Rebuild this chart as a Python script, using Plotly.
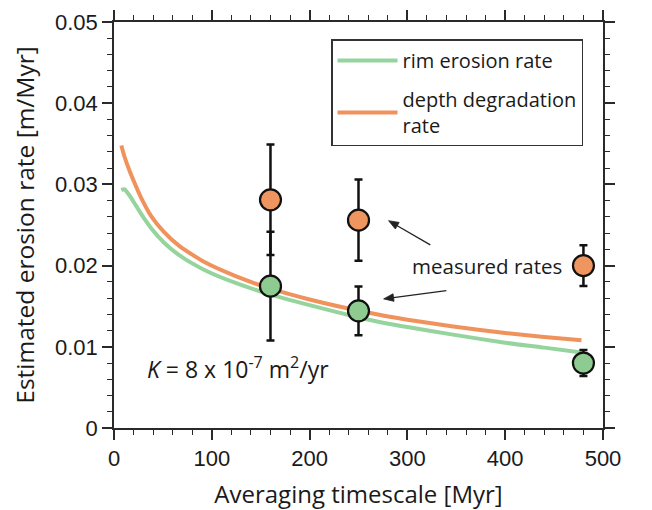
import math
import plotly.graph_objects as go

# ---- data ----
curve_x = [7.5, 10.5, 15.5, 22, 28.4, 38, 51, 67, 93, 125, 157, 200, 258, 300, 345, 400, 440, 478]
rim_curve = [0.0293, 0.0294, 0.0287, 0.02747, 0.02624, 0.0246, 0.02285, 0.02125, 0.01943, 0.01783,
             0.01655, 0.01513, 0.0134, 0.01243, 0.01153, 0.0105, 0.0099, 0.0093]
depth_curve = [0.0348, 0.0335, 0.0318, 0.0299, 0.0282, 0.0261, 0.02415, 0.02239, 0.0204, 0.01867,
               0.01729, 0.01583, 0.01426, 0.01334, 0.01253, 0.0117, 0.0112, 0.0108]

meas_x = [160, 250, 480]
rim_meas = [0.01747, 0.01443, 0.0080]
rim_err = [0.0067, 0.0030, 0.0016]
depth_meas = [0.0281, 0.0256, 0.0200]
depth_err = [0.0068, 0.0050, 0.0025]

x_ticks = [0, 100, 200, 300, 400, 500]
y_ticks = [0, 0.01, 0.02, 0.03, 0.04, 0.05]

GREEN_LINE = "#96D49D"
ORANGE_LINE = "#F0925C"
GREEN_FILL = "#8DCB90"
ORANGE_FILL = "#EF955F"
AX = "#2a2a2a"
TXT_FONT = "Open Sans"

# plot-area geometry (px) used to build arrow heads with correct proportions
X_RANGE = (0, 500)
Y_RANGE = (0, 0.05)
PLOT_W, PLOT_H = 489, 406
SX = PLOT_W / (X_RANGE[1] - X_RANGE[0])
SY = PLOT_H / (Y_RANGE[1] - Y_RANGE[0])

fig = go.Figure()
fig.add_trace(go.Scatter(x=curve_x, y=rim_curve, mode="lines", name="rim erosion rate",
                         legendgroup="a",
                         line=dict(color=GREEN_LINE, width=4, shape="spline", smoothing=0.6)))
fig.add_trace(go.Scatter(x=curve_x, y=depth_curve, mode="lines", name="depth degradation<br>rate",
                         legendgroup="b",
                         line=dict(color=ORANGE_LINE, width=4, shape="spline", smoothing=0.6)))

for yv, ev, fill in [(depth_meas, depth_err, ORANGE_FILL), (rim_meas, rim_err, GREEN_FILL)]:
    fig.add_trace(go.Scatter(x=meas_x, y=yv, mode="markers", showlegend=False,
                             error_y=dict(type="data", array=ev, visible=True, color="#111",
                                          thickness=2.5, width=4),
                             marker=dict(size=21, color=fill, line=dict(color="#111", width=2.2))))

axis_common = dict(showline=True, linecolor=AX, linewidth=1.5, mirror="ticks",
                   ticks="outside", ticklen=10, tickwidth=1.5, tickcolor=AX,
                   showgrid=False, zeroline=False, automargin=False,
                   tickfont=dict(family="Liberation Sans", size=22, color="#1a1a1a"))

fig.update_xaxes(**axis_common, range=list(X_RANGE), tickvals=x_ticks,
                 minor=dict(dtick=20, ticks="outside", ticklen=5, tickwidth=1.3, tickcolor=AX),
                 title=dict(text="Averaging timescale [Myr]", standoff=17,
                            font=dict(family=TXT_FONT, size=24, color="#1a1a1a")))
fig.update_yaxes(**axis_common, range=list(Y_RANGE), tickvals=y_ticks,
                 minor=dict(dtick=0.002, ticks="outside", ticklen=5, tickwidth=1.3, tickcolor=AX),
                 title=dict(text="Estimated erosion rate [m/Myr]", standoff=14,
                            font=dict(family=TXT_FONT, size=24.5, color="#1a1a1a")))

fig.add_annotation(x=32, y=0.0074, xref="x", yref="y", xanchor="left", yanchor="middle",
                   showarrow=False, text="<i>K</i> = 8 x 10<sup>-7</sup> m<sup>2</sup>/yr",
                   font=dict(family=TXT_FONT, size=23, color="#1a1a1a"))
fig.add_annotation(x=381, y=0.0199, xref="x", yref="y", showarrow=False, text="measured rates",
                   font=dict(family=TXT_FONT, size=20.5, color="#1a1a1a"))


def add_arrow(tail, tip, head_len=10, head_half=3.8, color="#222"):
    """Arrow from tail to tip (data coords); head sized in pixels."""
    dxp = (tip[0] - tail[0]) * SX
    dyp = (tip[1] - tail[1]) * SY
    L = math.hypot(dxp, dyp)
    ux, uy = dxp / L, dyp / L
    nx, ny = -uy, ux
    bx = -ux * head_len
    by = -uy * head_len
    p1 = (tip[0] + (bx + nx * head_half) / SX, tip[1] + (by + ny * head_half) / SY)
    p2 = (tip[0] + (bx - nx * head_half) / SX, tip[1] + (by - ny * head_half) / SY)
    base = (tip[0] + bx * 0.8 / SX, tip[1] + by * 0.8 / SY)
    fig.add_shape(type="line", xref="x", yref="y", x0=tail[0], y0=tail[1], x1=base[0], y1=base[1],
                  line=dict(color=color, width=1.3))
    fig.add_shape(type="path", xref="x", yref="y",
                  path=f"M {tip[0]},{tip[1]} L {p1[0]},{p1[1]} L {p2[0]},{p2[1]} Z",
                  fillcolor=color, line=dict(color=color, width=0.8))


add_arrow(tail=(323.4, 0.02255), tip=(280.8, 0.02553))
add_arrow(tail=(339.8, 0.01693), tip=(275.7, 0.0159))

# The page body has an 8px default margin, so the figure is sized/offset to keep
# the plot area where the reference has it inside the 652x510 window.
fig.update_layout(
    width=644, height=502,
    margin=dict(l=106, r=49, t=14, b=82),
    paper_bgcolor="white", plot_bgcolor="white",
    showlegend=True,
    legend=dict(x=0.4438, y=0.957, xanchor="left", yanchor="top",
                bordercolor="#333", borderwidth=1.5, bgcolor="white",
                itemwidth=60, tracegroupgap=10, traceorder="grouped",
                font=dict(family=TXT_FONT, size=20, color="#1a1a1a")),
)

fig.write_html("out.html")
